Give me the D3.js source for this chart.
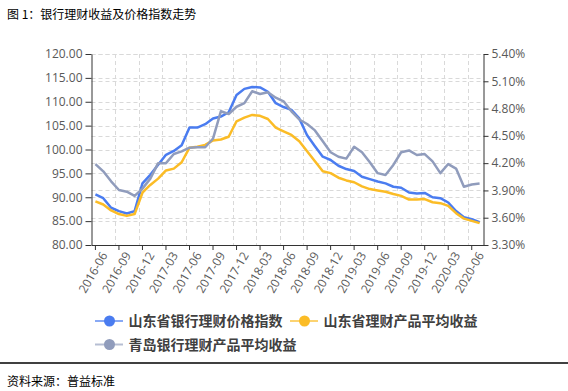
<!DOCTYPE html>
<html><head><meta charset="utf-8">
<script src="https://cdn.jsdelivr.net/npm/d3@7"></script>
<style>
html,body{margin:0;padding:0;background:#fff;}
svg{display:block;}
</style></head>
<body>
<svg id="c" width="568" height="391"></svg>
<script>
const months = ["2016-06","2016-07","2016-08","2016-09","2016-10","2016-11","2016-12",
"2017-01","2017-02","2017-03","2017-04","2017-05","2017-06","2017-07","2017-08","2017-09","2017-10","2017-11","2017-12",
"2018-01","2018-02","2018-03","2018-04","2018-05","2018-06","2018-07","2018-08","2018-09","2018-10","2018-11","2018-12",
"2019-01","2019-02","2019-03","2019-04","2019-05","2019-06","2019-07","2019-08","2019-09","2019-10","2019-11","2019-12",
"2020-01","2020-02","2020-03","2020-04","2020-05","2020-06","2020-07"];
const tickLabels = ["2016-06","2016-09","2016-12","2017-03","2017-06","2017-09","2017-12","2018-03","2018-06","2018-09","2018-12","2019-03","2019-06","2019-09","2019-12","2020-03","2020-06"];
const leftTicks = [80,85,90,95,100,105,110,115,120];
const rightTicks = [3.3,3.6,3.9,4.2,4.5,4.8,5.1,5.4];

const seriesNames = ["山东省银行理财价格指数","山东省理财产品平均收益","青岛银行理财产品平均收益"];
const sdIndex = [90.6,89.8,87.8,87.1,86.6,87.1,92.9,94.7,96.8,98.9,99.7,100.9,104.6,104.6,105.3,106.5,106.9,107.8,111.4,
112.7,113.1,113.0,112.1,109.7,108.9,108.3,106.5,103.0,100.7,98.5,97.8,96.6,95.9,95.5,94.3,93.8,93.3,92.9,92.2,92.0,91.0,
90.8,90.9,90.0,89.8,88.9,87.1,85.8,85.4,84.8];
const sdYield = [3.78,3.745,3.68,3.64,3.62,3.64,3.875,3.96,4.03,4.12,4.14,4.21,4.37,4.38,4.40,4.45,4.46,4.49,4.66,
4.70,4.73,4.72,4.685,4.59,4.55,4.51,4.44,4.33,4.22,4.11,4.09,4.04,4.01,3.99,3.945,3.915,3.90,3.885,3.86,3.84,3.80,
3.80,3.805,3.77,3.76,3.73,3.65,3.59,3.565,3.54];
const qdYield = [4.19,4.11,4.00,3.905,3.886,3.84,3.92,4.03,4.20,4.20,4.30,4.33,4.37,4.375,4.375,4.47,4.77,4.74,4.82,
4.86,4.99,4.96,4.98,4.92,4.88,4.77,4.68,4.63,4.56,4.44,4.32,4.27,4.25,4.38,4.32,4.21,4.09,4.07,4.18,4.32,4.34,
4.29,4.30,4.22,4.09,4.19,4.14,3.94,3.965,3.975];

const colors = ["#4a7cf0","#fbbc26","#909cbc"];
const L = 91.5, R = 483.5, T = 54, B = 245;
const svg = d3.select("#c");
const fontCJK = "'Noto Sans CJK SC','Noto Sans',sans-serif";
const fontNum = "'Open Sans','Noto Sans',sans-serif";

const x = d3.scaleBand().domain(months).range([L,R]).padding(0);
const yL = d3.scaleLinear().domain([80,120]).range([B,T]);
const yR = d3.scaleLinear().domain([3.3,5.4]).range([B,T]);
const cx = m => x(m) + x.bandwidth()/2;

// title
svg.append("text").attr("x",7).attr("y",18.5).attr("font-family",fontCJK).attr("font-size",12)
  .attr("fill","#000").text("图 1：银行理财收益及价格指数走势");

// grid
const grid = svg.append("g").attr("stroke","#d9d9d9").attr("stroke-dasharray","4,3").attr("stroke-width",1);
leftTicks.filter(d=>d>80).forEach(d=>{
  grid.append("line").attr("x1",L).attr("x2",R).attr("y1",Math.round(yL(d))+0.5).attr("y2",Math.round(yL(d))+0.5);
});
rightTicks.filter(d=>d>3.3).forEach(d=>{
  grid.append("line").attr("x1",L).attr("x2",R).attr("y1",Math.round(yR(d))+0.5).attr("y2",Math.round(yR(d))+0.5);
});
months.forEach((m,i)=>{
  if(i>0 && i%3===0){
    const xx = Math.round(x(m))+0.5;
    grid.append("line").attr("x1",xx).attr("x2",xx).attr("y1",T).attr("y2",B);
  }
});

// axes
function styleAxis(g){
  g.selectAll("path,line").attr("stroke","#333");
  g.selectAll("text").attr("fill","#595959").attr("font-family",fontNum).attr("font-size",12);
}
svg.append("g").attr("transform",`translate(${L},0)`)
  .call(d3.axisLeft(yL).tickValues(leftTicks).tickFormat(d3.format(".2f")).tickSize(6).tickPadding(3).tickSizeOuter(0))
  .call(styleAxis);
svg.append("g").attr("transform",`translate(${R},0)`)
  .call(d3.axisRight(yR).tickValues(rightTicks).tickFormat(d=>d3.format(".2f")(d)+"%").tickSize(5).tickPadding(3).tickSizeOuter(0))
  .call(styleAxis);
const xa = svg.append("g").attr("transform",`translate(0,${B})`)
  .call(d3.axisBottom(x).tickValues(tickLabels).tickSize(5).tickSizeOuter(0))
  .call(styleAxis);
xa.selectAll("text").attr("text-anchor","end").attr("dy","0.35em")
  .attr("transform","translate(2,4) rotate(-60)").attr("y",8).attr("x",0);

// lines
const data = [
  {vals: sdIndex, y: yL},
  {vals: sdYield, y: yR},
  {vals: qdYield, y: yR}
];
data.forEach((s,k)=>{
  const line = d3.line().x((d,i)=>cx(months[i])).y(d=>s.y(d));
  svg.append("path").datum(s.vals).attr("d",line).attr("fill","none")
    .attr("stroke",colors[k]).attr("stroke-width",2.5).attr("stroke-linejoin","round");
});

// legend
const legendPos = [{x:95,y:321},{x:290,y:321},{x:95,y:344.5}];
seriesNames.forEach((n,k)=>{
  const p = legendPos[k];
  const g = svg.append("g");
  g.append("line").attr("x1",p.x).attr("x2",p.x+28).attr("y1",p.y).attr("y2",p.y)
    .attr("stroke",colors[k]).attr("stroke-width",2).attr("opacity",0.65);
  g.append("circle").attr("cx",p.x+14.5).attr("cy",p.y).attr("r",5.5).attr("fill",colors[k]);
  g.append("text").attr("x",p.x+33.5).attr("y",p.y).attr("dy","0.36em")
    .attr("font-family",fontCJK).attr("font-size",14).attr("font-weight","bold").attr("fill","#404040").text(n);
});

// bottom rule and source
svg.append("line").attr("x1",0).attr("x2",568).attr("y1",363).attr("y2",363).attr("stroke","#000").attr("stroke-width",1.5);
svg.append("text").attr("x",7).attr("y",386).attr("font-family",fontCJK).attr("font-size",12)
  .attr("fill","#000").text("资料来源：普益标准");
</script>
</body></html>
